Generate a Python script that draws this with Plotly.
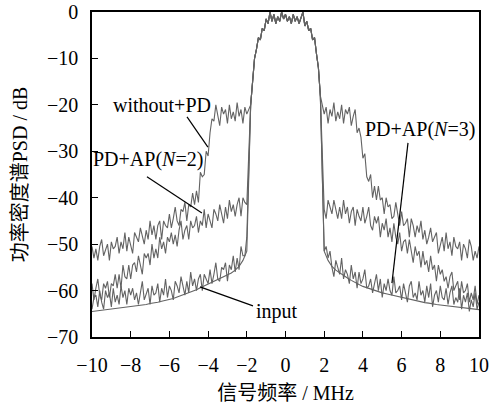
import numpy as np
import plotly.graph_objects as go

# shared in-band PSD (dB), x = -1.8 .. 1.8 step 0.1
band_psd = [-20, -14, -10, -8, -5.5, -6, -3.5, -4, -1.5, -2.5, 0, -2, -0.5, -2.5, -1, -2, 0, -1.5,
            -0.5, -2, -1, -2.5, -0.5, -2, -1, -2.5, -1, 0, -3, -2, -4, -3.5, -6, -5.5, -9, -12, -18]

# without+PD  (left: -10..-2, right: 2..10, step 0.1)
wpd_left = [-50.5, -53, -51, -53.5, -50.5, -49, -52.5, -51, -50, -53.5,
            -49.5, -51, -50.5, -48.5, -52, -49.5, -51, -47.5, -51.5, -48.5,
            -50, -52, -47.5, -48.5, -49.5, -46.5, -48.5, -50, -47, -49,
            -45, -48, -46, -49, -46, -45, -49, -45, -46, -46.5,
            -43.5, -46.5, -44.5, -42, -45, -46, -42.5, -43, -41, -45,
            -41.5, -42, -39, -41.5, -38.5, -41, -34.5, -35.5, -35, -30,
            -31, -26, -23, -23.5, -20, -22.5, -24.5, -20.5, -22, -21,
            -24, -20, -23, -21.5, -23.5, -19.5, -22.5, -21, -24, -20.5, -22]
wpd_right = [-22, -20.5, -24, -21, -22.5, -19.5, -23.5, -21.5, -23, -20,
             -24, -21, -22, -20.5, -24.5, -22.5, -21, -26, -25, -27,
             -31.5, -30.5, -35.5, -36.5, -35, -40, -37.5, -40.5, -37.5, -40.5,
             -40, -43.5, -40, -42, -41.5, -44.5, -44, -41, -43.5, -46,
             -43, -46, -45.5, -44.5, -48.5, -44.5, -46, -48.5, -46, -47.5,
             -45, -49, -47, -50, -48.5, -46.5, -49.5, -48.5, -47.5, -52,
             -50, -48.5, -51.5, -47.5, -51, -49.5, -52.5, -48.5, -50.5, -51,
             -49.5, -53.5, -50, -51, -53, -49, -50.5, -53.5, -51.5, -53, -50.5]

# PD+AP(N=2)
n2_left = [-58.5, -62, -59.5, -57.5, -61, -62, -58.5, -59.5, -58, -61.5,
           -58.5, -59, -56.5, -59.5, -56.5, -59.5, -54.5, -57, -57.5, -54.5,
           -57.5, -54.5, -54, -56, -52.5, -54.5, -56.5, -52, -53, -52,
           -54.5, -50, -53, -51, -53, -48.5, -51, -49.5, -52, -48.5,
           -49.5, -47.5, -50, -48, -50.5, -47, -45, -49, -47, -46,
           -49, -45, -46.5, -46, -44, -47.5, -45, -46, -42.5, -46.5,
           -43.5, -45, -46.5, -42.5, -43.5, -45, -41.5, -43.5, -45.5, -42,
           -44.5, -40.5, -43, -41.5, -44, -41.5, -40, -44, -40, -41, -41.5]
n2_right = [-42.5, -44.5, -40.5, -42, -43.5, -40.5, -42.5, -44.5, -42, -44.5,
            -40.5, -43.5, -42, -45.5, -43, -42, -46, -42.5, -44, -45,
            -42, -45.5, -44, -42, -46, -47, -44, -45.5, -44, -48.5,
            -45.5, -47, -44.5, -48.5, -46.5, -49.5, -45.5, -48.5, -50, -47.5,
            -51.5, -49.5, -49, -52, -49, -52, -54, -50.5, -52.5, -51.5,
            -55, -51.5, -54.5, -53.5, -56, -52.5, -55.5, -54.5, -58, -54.5,
            -56.5, -55.5, -58, -57, -59.5, -57, -56, -60, -59, -58,
            -62, -58, -60.5, -60, -58.5, -62.5, -60.5, -62, -59, -63, -61]

# PD+AP(N=3)
n3_left = [-64, -61.5, -61, -63.5, -60, -62.5, -64, -60, -61.5, -60.5,
           -63.5, -59.5, -62.5, -61, -63, -59, -61.5, -60, -63, -59.5,
           -61, -59.5, -62, -60.5, -63, -60, -58, -62, -60.5, -59.5,
           -63, -59, -61, -60.5, -58.5, -62.5, -59.5, -61, -57.5, -61.5,
           -59, -60, -62, -58, -59, -60.5, -57, -59, -61, -58,
           -60.5, -56, -59, -57.5, -60, -57.5, -56.5, -60, -56.5, -57.5,
           -58.5, -55.5, -58.5, -56.5, -54, -57.5, -58, -55, -55.5, -54,
           -58, -54.5, -55.5, -52.5, -56, -53, -55.5, -50.5, -52.5, -52.5, -48.5]
n3_right = [-51.5, -50.5, -53, -51.5, -55, -57, -53.5, -55, -56.5, -53,
            -57.5, -55.5, -56.5, -58.5, -54.5, -57.5, -56, -59.5, -56, -58.5,
            -57.5, -55.5, -59.5, -59, -57.5, -60.5, -58.5, -56.5, -60, -57.5,
            -61.5, -58.5, -60, -57.5, -60, -61, -57, -60.5, -60, -59,
            -62, -58.5, -60.5, -62.5, -59, -58, -61.5, -60.5, -62, -58,
            -61, -60, -62.5, -59, -61.5, -58.5, -63.5, -61, -60, -62.5,
            -59, -61.5, -62, -59.5, -63, -60.5, -59, -63, -61.5, -62.5,
            -59.5, -64, -61, -62.5, -60.5, -64.5, -62, -63.5, -60.5, -64, -62.5]

# input (left: -10..-2, right: 2..10, step 0.2)
in_left = [-64.5, -64.4, -64.3, -64.2, -64.1, -64.0, -63.9, -63.8, -63.7, -63.6, -63.5, -63.4, -63.3,
           -63.1, -63.0, -62.8, -62.7, -62.5, -62.3, -62.1, -62.0, -61.7, -61.4, -61.1, -60.8, -60.5,
           -60.2, -59.8, -59.4, -59.0, -58.6, -58.2, -57.8, -57.4, -57.0, -56.6, -56.2, -55.6, -54.8,
           -53.5, -51.5]
in_right = [-51.5, -53.5, -54.8, -55.6, -56.2, -56.8, -57.3, -57.8, -58.3, -58.7, -59.1, -59.4, -59.7,
            -60.0, -60.3, -60.5, -60.7, -60.9, -61.1, -61.3, -61.5, -61.7, -61.9, -62.1, -62.3, -62.4,
            -62.6, -62.7, -62.9, -63.0, -63.1, -63.2, -63.3, -63.4, -63.5, -63.6, -63.7, -63.8, -63.9,
            -64.0, -64.1]

x_ticks = [-10, -8, -6, -4, -2, 0, 2, 4, 6, 8, 10]
y_ticks = [-70, -60, -50, -40, -30, -20, -10, 0]

FONT = "Liberation Serif, Times New Roman, Noto Sans CJK SC, serif"
LINE_COLOR = "#636363"

freq_band = np.linspace(-1.8, 1.8, len(band_psd))

fig = go.Figure()
for name, left, right in [("without+PD", wpd_left, wpd_right),
                          ("PD+AP(N=2)", n2_left, n2_right),
                          ("PD+AP(N=3)", n3_left, n3_right),
                          ("input", in_left, in_right)]:
    fx = np.concatenate([np.linspace(-10, -2, len(left)), freq_band, np.linspace(2, 10, len(right))])
    fy = list(left) + band_psd + list(right)
    fig.add_trace(go.Scatter(x=fx, y=fy, mode="lines", name=name,
                             line=dict(color=LINE_COLOR, width=1.1), showlegend=False))

axis_common = dict(showline=True, linecolor="black", linewidth=1.5, mirror=True, ticks="inside",
                   ticklen=6, tickwidth=1.2, tickcolor="black", showgrid=False, zeroline=False,
                   automargin=False, tickfont=dict(family=FONT, size=20, color="black"))

fig.update_xaxes(range=[-10, 10], tickvals=x_ticks, ticklabelstandoff=9,
                 title=dict(text="信号频率 / MHz", font=dict(family=FONT, size=20, color="black"),
                            standoff=14), **axis_common)
fig.update_yaxes(range=[-70, 0], tickvals=y_ticks, ticklabelstandoff=8,
                 title=dict(text="功率密度谱PSD / dB", font=dict(family=FONT, size=20, color="black"),
                            standoff=14), **axis_common)

labels = [("without+PD", -6.38, -20.0), ("PD+AP(<i>N</i>=2)", -7.1, -31.7),
          ("PD+AP(<i>N</i>=3)", 6.95, -25.4), ("input", -0.44, -64.6)]
for text, lx, ly in labels:
    fig.add_annotation(x=lx, y=ly, text=text, showarrow=False, xref="x", yref="y",
                       font=dict(family=FONT, size=20, color="black"))

pointers = [(-5.09, -22.6, -4.01, -29.1), (-7.16, -35.5, -4.32, -43.3),
            (6.33, -28.2, 5.50, -58.4), (-4.42, -59.2, -1.68, -63.3)]
for x0, y0, x1, y1 in pointers:
    fig.add_shape(type="line", x0=x0, y0=y0, x1=x1, y1=y1, xref="x", yref="y",
                  line=dict(color="black", width=1.2))

fig.update_layout(width=490, height=404, margin=dict(l=92, r=11, t=12, b=67),
                  paper_bgcolor="white", plot_bgcolor="white")

fig.write_html("out.html")
